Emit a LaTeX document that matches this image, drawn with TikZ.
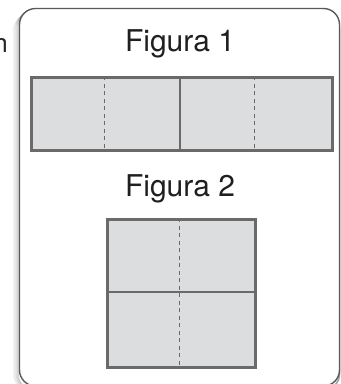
\documentclass[tikz,border=0pt]{standalone}
\usepackage{fontspec}
\setmainfont{TeX Gyre Heros}
\definecolor{edge}{HTML}{6A6A6A}
\definecolor{panel}{HTML}{DCDDDF}
\definecolor{frame}{HTML}{5A5A5A}
\begin{document}
\begin{tikzpicture}[x=1pt,y=-1pt,
  titletext/.style={font=\fontsize{30}{34}\selectfont, text=black!88, inner sep=0pt, anchor=base},
  panelbox/.style={draw=edge, line width=2.6pt, fill=panel},
  solidline/.style={draw=edge, line width=2.6pt},
  foldline/.style={draw=edge, line width=1pt, dash pattern=on 4pt off 3.5pt}]
\useasboundingbox (0,0) rectangle (341,384);
% shadow
\foreach \d/\o in {6/0.05,4.5/0.08,3/0.12,1.5/0.18}{
  \draw[black, opacity=\o, line width=1.5pt, rounded corners=16pt] (19.5-\d,8.5+\d) rectangle (339.5,390);
}
\draw[frame, line width=1.4pt, rounded corners=16pt, fill=white] (19.5,8.5) rectangle (339.5,386) ;
\node[font=\fontsize{26}{30}\selectfont, text=black!85, inner sep=0pt, anchor=base east] (cut) at (8,52) {n};
% Figura 1
\node[titletext] (t1) at (180,51) {Figura 1};
\node[panelbox, minimum width=301pt, minimum height=73pt, inner sep=0pt, anchor=north west] (r1) at (30,76) {};
\coordinate (m1t) at (180,76); \coordinate (m1b) at (180,149);
\coordinate (d1t) at (104.5,76); \coordinate (d1b) at (104.5,149);
\coordinate (d2t) at (254.5,76); \coordinate (d2b) at (254.5,149);
\draw[foldline] (d1t) -- (d1b);
\draw[foldline] (d2t) -- (d2b);
\draw[solidline] (m1t) -- (m1b);
% Figura 2
\node[titletext] (t2) at (180,196.5) {Figura 2};
\node[panelbox, minimum width=148pt, minimum height=148pt, inner sep=0pt, anchor=north west] (r2) at (106,218) {};
\coordinate (h2l) at (106,292); \coordinate (h2r) at (254,292);
\coordinate (v2t) at (179,218); \coordinate (v2b) at (179,366);
\draw[foldline] (v2t) -- (v2b);
\draw[solidline] (h2l) -- (h2r);
\end{tikzpicture}
\end{document}
